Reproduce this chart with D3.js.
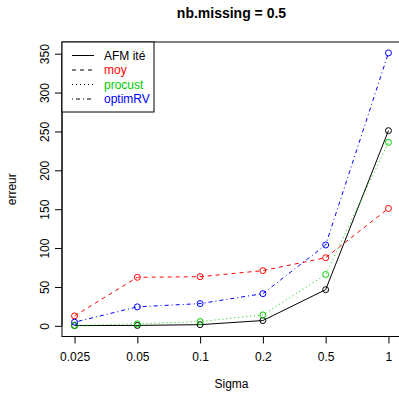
<!DOCTYPE html>
<html>
<head>
<meta charset="utf-8">
<script src="https://cdn.jsdelivr.net/npm/d3@7"></script>
<style>
  body { margin: 0; background: #fff; }
  svg { display: block; font-family: "Liberation Sans", Arial, sans-serif; }
</style>
</head>
<body>
<div id="chart"></div>
<script>
const sigmas = ["0.025", "0.05", "0.1", "0.2", "0.5", "1"];
const afmIte = [0.3, 0.5, 1.5, 6.8, 46.5, 251];
const moy = [12.8, 62.4, 63.2, 71, 87.6, 151];
const procust = [0.5, 2.5, 5.5, 14, 66, 236];
const optimRV = [4.7, 24.4, 28.6, 41.4, 104, 351];
const yTicks = [0, 50, 100, 150, 200, 250, 300, 350];

const series = [
    { name: "AFM ité", values: afmIte, color: "#000000", dash: null },
    { name: "moy", values: moy, color: "#FF0000", dash: "4,4" },
    { name: "procust", values: procust, color: "#00CD00", dash: "1,3" },
    { name: "optimRV", values: optimRV, color: "#0000FF", dash: "1,3,4,3" }
];

const width = 399, height = 394;
const plotL = 62, plotR = 401, plotT = 42, plotB = 336.5;

const svg = d3.select("#chart").append("svg")
    .attr("width", width)
    .attr("height", height);

// R style axis ranges, 4% padding
const x = d3.scaleLinear()
    .domain([0.8, sigmas.length + 0.2])
    .range([plotL, plotR]);

const all = series.flatMap(s => s.values);
const yMin = d3.min(all), yMax = d3.max(all), pad = (yMax - yMin) * 0.04;
const y = d3.scaleLinear()
    .domain([yMin - pad, yMax + pad])
    .range([plotB, plotT]);

// box
svg.append("rect")
    .attr("x", plotL).attr("y", plotT)
    .attr("width", plotR - plotL).attr("height", plotB - plotT)
    .attr("fill", "none").attr("stroke", "#000").attr("stroke-width", 1);

// x axis
const xAxis = svg.append("g")
    .attr("transform", `translate(0,${plotB})`)
    .call(d3.axisBottom(x)
        .tickValues(d3.range(1, sigmas.length + 1))
        .tickFormat(d => sigmas[d - 1])
        .tickSize(7).tickPadding(9));
xAxis.select(".domain")
    .attr("d", `M${x(1)},0H${x(sigmas.length)}`);
xAxis.selectAll("text").attr("font-size", 12).attr("fill", "#000")
    .attr("font-family", "Liberation Sans, Arial, sans-serif");

// y axis
const yAxis = svg.append("g")
    .attr("transform", `translate(${plotL},0)`)
    .call(d3.axisLeft(y).tickValues(yTicks).tickSize(7).tickPadding(0));
yAxis.select(".domain")
    .attr("d", `M0,${y(0)}V${y(350)}`);
yAxis.selectAll("text")
    .attr("font-size", 12).attr("fill", "#000")
    .attr("font-family", "Liberation Sans, Arial, sans-serif")
    .attr("text-anchor", "middle")
    .attr("dy", null)
    .attr("x", null)
    .attr("transform", "translate(-17,0) rotate(-90)")
    .attr("dominant-baseline", "central");

// titles
svg.append("text")
    .attr("x", (plotL + plotR) / 2).attr("y", 18)
    .attr("text-anchor", "middle")
    .attr("font-size", 14).attr("font-weight", "bold")
    .text("nb.missing = 0.5");

svg.append("text")
    .attr("x", (plotL + plotR) / 2).attr("y", 388)
    .attr("text-anchor", "middle")
    .attr("font-size", 12)
    .text("Sigma");

svg.append("text")
    .attr("transform", `translate(16,${(plotT + plotB) / 2}) rotate(-90)`)
    .attr("text-anchor", "middle")
    .attr("font-size", 12)
    .text("erreur");

// lines + points
const line = d3.line()
    .x((d, i) => x(i + 1))
    .y(d => y(d));

series.forEach(s => {
    svg.append("path")
        .datum(s.values)
        .attr("d", line)
        .attr("fill", "none")
        .attr("stroke", s.color)
        .attr("stroke-width", 1)
        .attr("stroke-dasharray", s.dash);

    svg.selectAll(null)
        .data(s.values)
        .enter()
        .append("circle")
        .attr("cx", (d, i) => x(i + 1))
        .attr("cy", d => y(d))
        .attr("r", 3)
        .attr("fill", "none")
        .attr("stroke", s.color)
        .attr("stroke-width", 1);
});

// legend
const legend = svg.append("g");
legend.append("rect")
    .attr("x", plotL).attr("y", plotT)
    .attr("width", 92).attr("height", 70)
    .attr("fill", "#fff").attr("stroke", "#000");

series.forEach((s, i) => {
    const ly = 55.5 + i * 14.5;
    legend.append("line")
        .attr("x1", 72).attr("x2", 94)
        .attr("y1", ly).attr("y2", ly)
        .attr("stroke", "#000")
        .attr("stroke-dasharray", s.dash);
    legend.append("text")
        .attr("x", 104).attr("y", ly)
        .attr("dominant-baseline", "central")
        .attr("font-size", 12)
        .attr("fill", s.color)
        .text(s.name);
});
</script>
</body>
</html>
